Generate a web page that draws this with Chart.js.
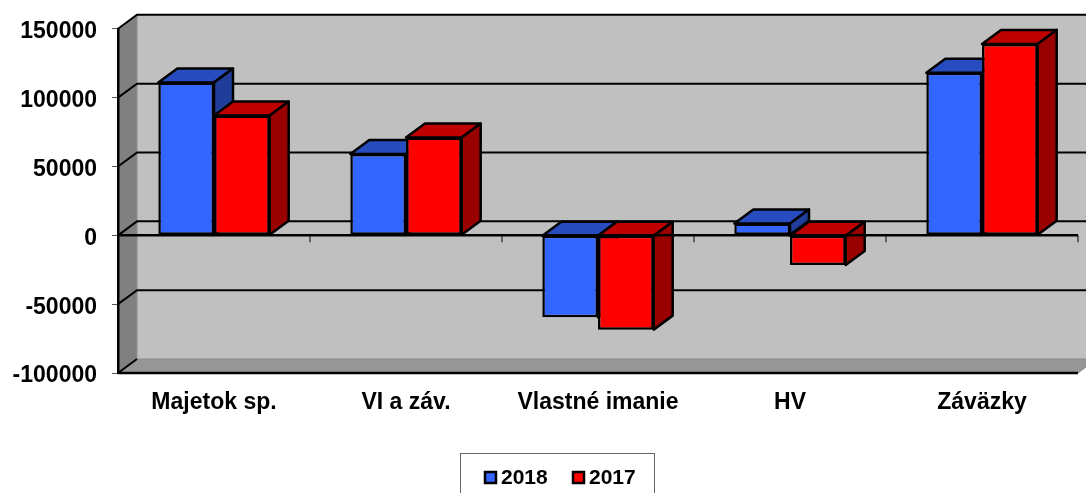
<!DOCTYPE html>
<html>
<head>
<meta charset="utf-8">
<style>
  html, body { margin: 0; padding: 0; background: #fff; overflow: hidden; }
  canvas { display: block; }
</style>
<script src="https://cdn.jsdelivr.net/npm/chart.js@4/dist/chart.umd.min.js"></script>
</head>
<body>
<canvas id="chart" width="1086" height="493"></canvas>
<script>
const categories = ['Majetok sp.', 'VI a záv.', 'Vlastné imanie', 'HV', 'Záväzky'];
const values2018 = [111000, 59000, -59500, 8500, 118000];
const values2017 = [87000, 71000, -68500, -21500, 139000];
const seriesNames = ['2018', '2017'];
const frontColors = ['#3366FF', '#FF0000'];
const topColors = ['#264CBF', '#BF0000'];
const sideColors = ['#1F3D99', '#990000'];

const DX = 19, DY = 14; // depth of the fake 3d box

function poly(ctx, pts, fill) {
    ctx.beginPath();
    pts.forEach((p, i) => i ? ctx.lineTo(p[0], p[1]) : ctx.moveTo(p[0], p[1]));
    ctx.closePath();
    if (fill) { ctx.fillStyle = fill; ctx.fill(); }
    ctx.stroke();
}

const box3d = {
    id: 'box3d',
    // walls and back gridlines
    beforeDraw(chart) {
        const ctx = chart.ctx, a = chart.chartArea, y = chart.scales.y;
        // value labels sit a little under their tick in the reference
        y.getLabelItems().forEach(item => { item.textOffset = 3; });
        ctx.save();
        ctx.fillStyle = '#C0C0C0';
        ctx.fillRect(a.left + DX, a.top - DY, a.right - a.left, a.bottom - a.top);
        ctx.strokeStyle = '#8c8c8c';
        ctx.lineWidth = 1;
        poly(ctx, [[a.left, a.top], [a.left + DX, a.top - DY], [a.left + DX, a.bottom - DY], [a.left, a.bottom]], '#808080');
        poly(ctx, [[a.left, a.bottom], [a.left + DX, a.bottom - DY], [a.right + DX, a.bottom - DY], [a.right, a.bottom]], '#969696');
        ctx.strokeStyle = '#000';
        ctx.lineWidth = 2;
        y.ticks.forEach(t => {
            const py = y.getPixelForValue(t.value);
            ctx.beginPath();
            ctx.moveTo(a.left, py);
            ctx.lineTo(a.left + DX, py - DY);
            if (t.value > y.min) ctx.lineTo(a.right + DX, py - DY);
            ctx.stroke();
        });
        ctx.restore();
    },
    // top and side faces, behind the front of the bars
    beforeDatasetsDraw(chart) {
        const ctx = chart.ctx;
        ctx.save();
        ctx.strokeStyle = '#000';
        ctx.lineWidth = 2.5;
        ctx.lineJoin = 'round';
        chart.data.datasets.forEach((ds, d) => {
            chart.getDatasetMeta(d).data.forEach(bar => {
                const l = bar.x - bar.width / 2, r = bar.x + bar.width / 2;
                const t = Math.min(bar.y, bar.base), b = Math.max(bar.y, bar.base);
                poly(ctx, [[l, t], [l + DX, t - DY], [r + DX, t - DY], [r, t]], topColors[d]);
                poly(ctx, [[r, t], [r + DX, t - DY], [r + DX, b - DY], [r, b]], sideColors[d]);
            });
        });
        ctx.restore();
    },
    // zero line, its ticks, floor line and legend
    afterDraw(chart) {
        const ctx = chart.ctx, a = chart.chartArea, x = chart.scales.x, y = chart.scales.y;
        const zero = y.getPixelForValue(0);
        const step = (a.right - a.left) / categories.length;
        ctx.save();
        ctx.strokeStyle = '#000';
        ctx.lineWidth = 2.5;
        ctx.beginPath();
        ctx.moveTo(a.left, zero);
        ctx.lineTo(a.right, zero);
        ctx.moveTo(a.left, a.bottom);
        ctx.lineTo(a.right, a.bottom);
        ctx.stroke();
        ctx.lineWidth = 1;
        ctx.beginPath();
        for (let i = 1; i <= categories.length; i++) {
            const px = x.getPixelForTick(i - 1) + step / 2;
            ctx.moveTo(px, zero);
            ctx.lineTo(px, zero + 7);
        }
        ctx.stroke();

        // legend frame runs off the bottom of the picture
        ctx.strokeStyle = '#666';
        ctx.strokeRect(460.5, 453.5, 194, 60);
        ctx.font = 'bold 21px "Liberation Sans"';
        ctx.textBaseline = 'alphabetic';
        [484, 572].forEach((lx, i) => {
            ctx.fillStyle = frontColors[i];
            ctx.strokeStyle = '#000';
            ctx.lineWidth = 2.5;
            ctx.fillRect(lx + 1, 472, 11, 11);
            ctx.strokeRect(lx + 1, 472, 11, 11);
            ctx.fillStyle = '#000';
            ctx.fillText(seriesNames[i], lx + 17, 484);
        });
        ctx.restore();
    }
};

new Chart(document.getElementById('chart').getContext('2d'), {
    type: 'bar',
    data: {
        labels: categories,
        datasets: [values2018, values2017].map((vals, i) => ({
            label: seriesNames[i],
            data: vals,
            backgroundColor: frontColors[i],
            borderColor: '#000',
            borderWidth: 2.5,
            borderSkipped: false,
            categoryPercentage: 0.58,
            barPercentage: 1
        }))
    },
    options: {
        responsive: false,
        animation: false,
        layout: { autoPadding: false, padding: { left: 0, right: 8, top: 28, bottom: 0 } },
        plugins: { legend: { display: false }, tooltip: { enabled: false } },
        scales: {
            x: {
                afterFit(scale) { scale.height = 120; },
                grid: { display: false },
                border: { display: false },
                ticks: { color: '#000', font: { family: 'Liberation Sans', weight: 'bold', size: 23 }, padding: 8, maxRotation: 0, autoSkip: false }
            },
            y: {
                min: -100000,
                max: 150000,
                afterFit(scale) { scale.width = 118; },
                grid: { drawOnChartArea: false, drawTicks: true, tickLength: 6, color: '#555', lineWidth: 1 },
                border: { display: true, color: '#000', width: 2.5 },
                ticks: { stepSize: 50000, color: '#000', font: { family: 'Liberation Sans', weight: 'bold', size: 23 }, padding: 15, callback: v => String(v) }
            }
        }
    },
    plugins: [box3d]
});
</script>
</body>
</html>
